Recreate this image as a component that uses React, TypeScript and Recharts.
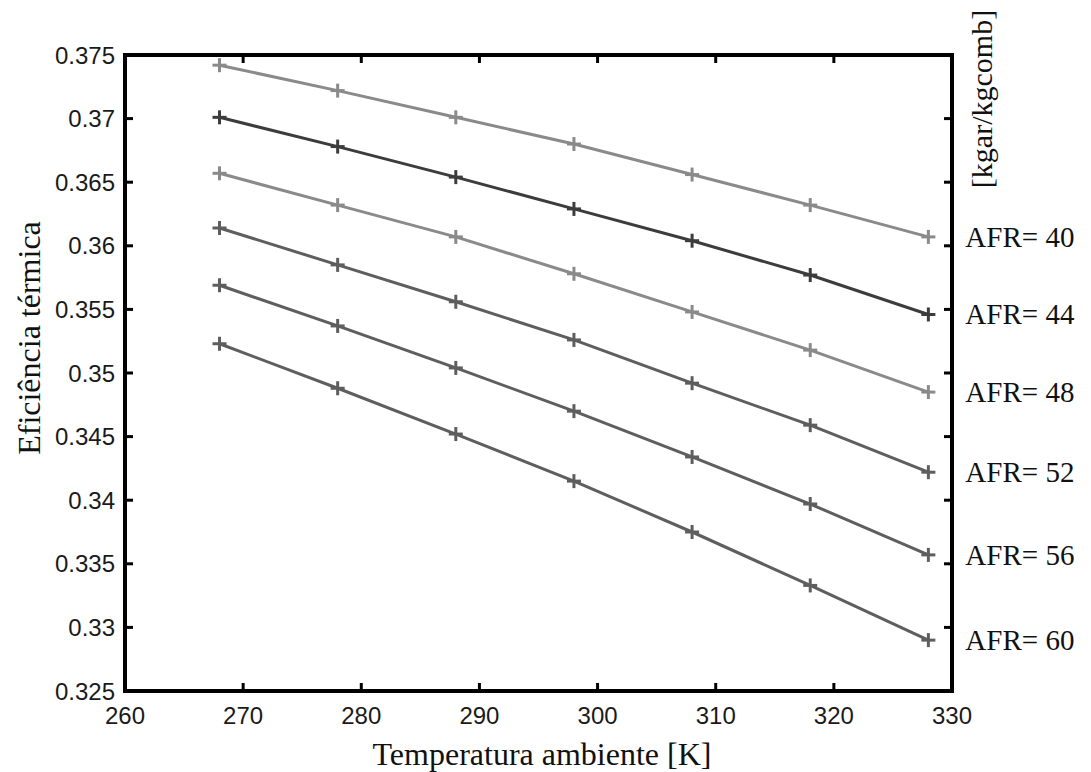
import React from 'react';
import { LineChart, Line, XAxis, YAxis, LabelList } from 'recharts';

const temperatures = [268, 278, 288, 298, 308, 318, 328];
const afr40 = [0.3742, 0.3722, 0.3701, 0.368, 0.3656, 0.3632, 0.3607];
const afr44 = [0.3701, 0.3678, 0.3654, 0.3629, 0.3604, 0.3577, 0.3546];
const afr48 = [0.3657, 0.3632, 0.3607, 0.3578, 0.3548, 0.3518, 0.3485];
const afr52 = [0.3614, 0.3585, 0.3556, 0.3526, 0.3492, 0.3459, 0.3422];
const afr56 = [0.3569, 0.3537, 0.3504, 0.347, 0.3434, 0.3397, 0.3357];
const afr60 = [0.3523, 0.3488, 0.3452, 0.3415, 0.3375, 0.3333, 0.329];

const seriesKeys = ['a40', 'a44', 'a48', 'a52', 'a56', 'a60'];
const seriesNames = ['AFR= 40', 'AFR= 44', 'AFR= 48', 'AFR= 52', 'AFR= 56', 'AFR= 60'];
const seriesValues = [afr40, afr44, afr48, afr52, afr56, afr60];
const seriesColors = ['#8a8a8a', '#3c3c3c', '#8a8a8a', '#5e5e5e', '#5e5e5e', '#5e5e5e'];

const xTicks = [260, 270, 280, 290, 300, 310, 320, 330];
const yTicks = [0.325, 0.33, 0.335, 0.34, 0.345, 0.35, 0.355, 0.36, 0.365, 0.37, 0.375];
const yTickLabels = ['0.325', '0.33', '0.335', '0.34', '0.345', '0.35', '0.355', '0.36', '0.365', '0.37', '0.375'];

const xTitle = 'Temperatura ambiente [K]';
const yTitle = 'Eficiência térmica';
const unitLabel = '[kgar/kgcomb]';

const data = temperatures.map((t, i) => {
  const row: any = { T: t };
  seriesKeys.forEach((k, j) => {
    row[k] = seriesValues[j][i];
  });
  return row;
});

const TICK_LEN = 8;
const SANS = '"Liberation Sans", Arial, sans-serif';
const SERIF = '"Liberation Serif", "Times New Roman", serif';

const formatY = (v: number) => {
  const idx = yTicks.findIndex((t) => Math.abs(t - v) < 1e-9);
  return idx >= 0 ? yTickLabels[idx] : String(v);
};

const EmptyTick = () => <g />;

const makePlusDot = (color: string) => (props: any) => {
  const { cx, cy, index } = props;
  const s = 7;
  return (
    <g key={`dot-${index}`}>
      <line x1={cx - s} x2={cx + s} y1={cy} y2={cy} stroke={color} strokeWidth={3} />
      <line x1={cx} x2={cx} y1={cy - s} y2={cy + s} stroke={color} strokeWidth={3} />
    </g>
  );
};

const makeEndLabel = (name: string) => (props: any) => {
  const { x, y, index } = props;
  if (index !== temperatures.length - 1) return null;
  return (
    <text x={x + 37} y={y} dominantBaseline="central" textAnchor="start" fontFamily={SERIF} fontSize={29} fill="#111">
      {name}
    </text>
  );
};

const axisLineStyle = { stroke: '#000', strokeWidth: 4, strokeLinecap: 'square' as const };
const tickLineStyle = { stroke: '#000', strokeWidth: 3 };
const tickTextStyle = { fill: '#1a1a1a', fontSize: 24, fontFamily: SANS };

export default function App() {
  return (
    <div style={{ position: 'absolute', left: 0, top: 0, width: 1091, height: 772, background: '#fff' }}>
      <LineChart
        width={1091}
        height={772}
        data={data}
        margin={{ top: 54, right: 138, bottom: 41, left: 45 }}
      >
        <XAxis
          xAxisId="bottom"
          dataKey="T"
          type="number"
          domain={[260, 330]}
          ticks={xTicks}
          interval={0}
          allowDataOverflow
          height={40}
          tickSize={-TICK_LEN}
          tickMargin={24}
          stroke="#000"
          tickLine={tickLineStyle}
          axisLine={axisLineStyle}
          tick={tickTextStyle}
        />
        <XAxis
          xAxisId="top"
          dataKey="T"
          orientation="top"
          type="number"
          domain={[260, 330]}
          ticks={xTicks}
          interval={0}
          allowDataOverflow
          height={1}
          tickSize={-TICK_LEN}
          tickMargin={0}
          stroke="#000"
          tickLine={tickLineStyle}
          axisLine={axisLineStyle}
          tick={<EmptyTick />}
        />
        <YAxis
          yAxisId="left"
          type="number"
          domain={[0.325, 0.375]}
          ticks={yTicks}
          interval={0}
          allowDataOverflow
          width={80}
          tickSize={-TICK_LEN}
          tickMargin={18}
          stroke="#000"
          tickFormatter={formatY}
          tickLine={tickLineStyle}
          axisLine={axisLineStyle}
          tick={tickTextStyle}
        />
        <YAxis
          yAxisId="right"
          orientation="right"
          type="number"
          domain={[0.325, 0.375]}
          ticks={yTicks}
          interval={0}
          allowDataOverflow
          width={1}
          tickSize={-TICK_LEN}
          tickMargin={0}
          stroke="#000"
          tickLine={tickLineStyle}
          axisLine={axisLineStyle}
          tick={<EmptyTick />}
        />
        {seriesKeys.map((k, i) => (
          <Line
            key={k}
            xAxisId="bottom"
            yAxisId="left"
            dataKey={k}
            name={seriesNames[i]}
            stroke={seriesColors[i]}
            strokeWidth={3}
            dot={makePlusDot(seriesColors[i])}
            activeDot={false}
            isAnimationActive={false}
          >
            <LabelList dataKey={k} content={makeEndLabel(seriesNames[i])} />
          </Line>
        ))}
      </LineChart>
      <svg
        width={1091}
        height={772}
        style={{ position: 'absolute', left: 0, top: 0, pointerEvents: 'none' }}
      >
        <text x={542} y={765} textAnchor="middle" fontFamily={SERIF} fontSize={32} fill="#111">
          {xTitle}
        </text>
        <text
          x={0}
          y={0}
          transform="translate(40, 338) rotate(-90)"
          textAnchor="middle"
          fontFamily={SERIF}
          fontSize={32}
          fill="#111"
        >
          {yTitle}
        </text>
        <text
          x={0}
          y={0}
          transform="translate(992, 99) rotate(-90)"
          textAnchor="middle"
          fontFamily={SERIF}
          fontSize={30}
          fill="#111"
        >
          {unitLabel}
        </text>
      </svg>
    </div>
  );
}
